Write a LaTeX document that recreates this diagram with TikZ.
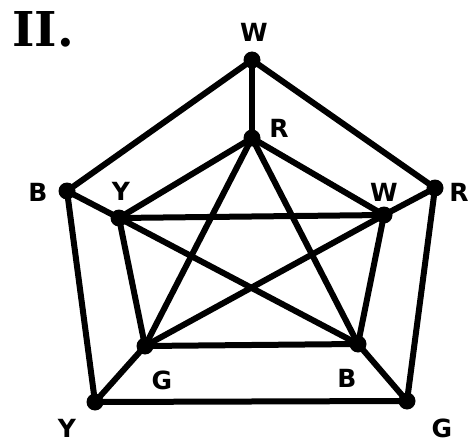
\documentclass[tikz,border=0pt]{standalone}
\usepackage{fontspec}
\newfontfamily\lblfont{DejaVu Sans}
\newfontfamily\ttlfont{DejaVu Serif}
\begin{document}
\begin{tikzpicture}[x=1pt,y=-1pt,
  dot/.style={circle,fill=black,inner sep=0pt,minimum size=17pt},
  edge/.style={line width=6pt,line cap=round,line join=round},
  lbl/.style={font=\lblfont\bfseries\fontsize{25}{25}\selectfont,inner sep=0pt,anchor=center}]
\useasboundingbox (0,0) rectangle (469,444);
\node[font=\ttlfont\bfseries\fontsize{48}{48}\selectfont,inner sep=0pt] (title) at (43,29) {II.};
% outer vertices
\coordinate (wo) at (252,60);
\coordinate (bo) at (67,191);
\coordinate (ro) at (435,188);
\coordinate (yo) at (95,402);
\coordinate (go) at (407,401);
% inner vertices
\coordinate (ri) at (252,138);
\coordinate (yi) at (119,218);
\coordinate (wi) at (384,215);
\coordinate (gi) at (145,346);
\coordinate (bi) at (358,344);
% outer pentagon
\draw[edge] (wo) -- (bo) -- (yo) -- (go) -- (ro) -- cycle;
% spokes
\draw[edge] (wo) -- (ri);
\draw[edge] (bo) -- (yi);
\draw[edge] (ro) -- (wi);
\draw[edge] (yo) -- (gi);
\draw[edge] (go) -- (bi);
% inner complete graph
\draw[edge] (ri) -- (yi);
\draw[edge] (ri) -- (wi);
\draw[edge] (ri) -- (gi);
\draw[edge] (ri) -- (bi);
\draw[edge] (yi) -- (wi);
\draw[edge] (yi) -- (gi);
\draw[edge] (yi) -- (bi);
\draw[edge] (wi) -- (gi);
\draw[edge] (wi) -- (bi);
\draw[edge] (gi) -- (bi);
% dots
\foreach \p in {wo,bo,ro,yo,go,ri,yi,wi,gi,bi} \node[dot] (d\p) at (\p) {};
% labels
\node[lbl] (lwo) at (254,32) {W};
\node[lbl] (lri) at (279,128) {R};
\node[lbl] (lbo) at (38,192) {B};
\node[lbl] (lyi) at (121,191) {Y};
\node[lbl] (lwi) at (384,192) {W};
\node[lbl] (lro) at (459,192) {R};
\node[lbl] (lgi) at (162,380) {G};
\node[lbl] (lbi) at (347,378) {B};
\node[lbl] (lyo) at (67,428) {Y};
\node[lbl] (lgo) at (442,428) {G};
\end{tikzpicture}
\end{document}
